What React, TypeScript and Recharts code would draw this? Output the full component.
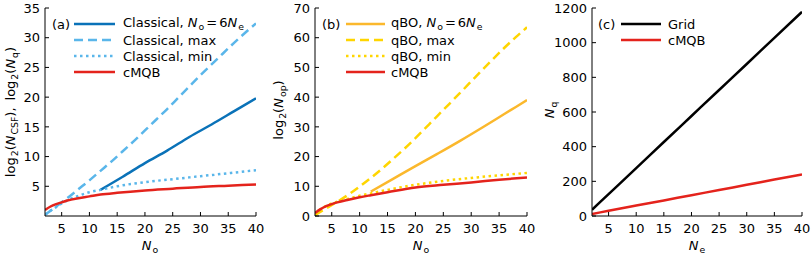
import React from "react"
import { Line, LineChart, XAxis, YAxis } from "recharts"

// N_o grids used by the different curves
const noFine = [2, 3, 4, 5, 6, 8, 10, 12, 15, 20, 25, 30, 35, 40]
const noMax = [2, 4, 6, 8, 10, 12, 14, 16, 18, 20, 22, 24, 26, 28, 30, 32, 34, 36, 38, 40]
const no6Ne = [12, 16, 20, 24, 28, 32, 36, 40]
const neGrid = [2, 5, 10, 15, 20, 25, 30, 35, 40]

// (a) log2(N_CSF), log2(N_q)
const classical6Ne = [4.4, 6.6, 8.9, 11.0, 13.3, 15.4, 17.6, 19.8]
const classicalMax = [0.2, 1.6, 3.0, 4.5, 6.0, 7.6, 9.2, 10.9, 12.6, 14.4, 16.2, 18.0, 19.9, 21.8, 23.7, 25.5, 27.3, 29.1, 30.8, 32.4]
const classicalMin = [0.2, 0.9, 1.5, 2.1, 2.6, 3.4, 4.0, 4.4, 5.0, 5.7, 6.2, 6.7, 7.2, 7.7]
const cmqbA = [1.0, 1.6, 2.0, 2.3, 2.6, 3.0, 3.3, 3.6, 3.9, 4.3, 4.6, 4.9, 5.1, 5.3]

// (b) log2(N_op)
const qbo6Ne = [8.2, 12.5, 16.8, 21.0, 25.3, 29.8, 34.4, 39.0]
const qboMax = [0.3, 2.6, 4.8, 7.2, 9.9, 12.8, 15.9, 19.2, 22.6, 26.2, 30.0, 33.8, 37.6, 41.4, 45.3, 49.2, 53.0, 56.7, 60.2, 63.5]
const qboMin = [0.4, 2.4, 3.4, 4.2, 4.8, 5.8, 6.8, 7.6, 8.8, 10.5, 11.8, 12.8, 13.7, 14.5]
const cmqbB = [1.0, 2.3, 3.3, 4.0, 4.6, 5.5, 6.3, 7.0, 8.0, 9.6, 10.5, 11.3, 12.2, 13.0]

// (c) N_q
const gridQ = [36, 126, 276, 427, 577, 727, 877, 1028, 1178]
const cmqbC = [12, 30, 60, 90, 120, 150, 180, 210, 240]

const xTicks = [5, 10, 15, 20, 25, 30, 35, 40]
const yTicksA = [5, 10, 15, 20, 25, 30, 35]
const yTicksB = [0, 10, 20, 30, 40, 50, 60, 70]
const yTicksC = [0, 200, 400, 600, 800, 1000, 1200]

const FONT = "'DejaVu Sans', sans-serif"
const TICK = 4
const BLUE = "#0a72b8"
const LIGHTBLUE = "#5ab6ea"
const RED = "#e4231c"
const ORANGE = "#fbb82c"
const YELLOW = "#ffd500"
const DASH = "9 5"
const DOT = "2.5 3.5"

const pts = (xs: number[], ys: number[]) => xs.map((x, i) => ({ x, y: ys[i] }))

const leftTick = (gap: number) => (p: any) => (
    <g>
        <line x1={p.x + gap} x2={p.x + gap + TICK} y1={p.y} y2={p.y} stroke="#000" />
        <text x={p.x} y={p.y} dy="0.36em" textAnchor="end" fontSize={13} fontFamily={FONT} fill="#000">
            {p.payload.value}
        </text>
    </g>
)
const rightTick = (p: any) => (
    <line x1={p.x - TICK} x2={p.x} y1={p.y} y2={p.y} stroke="#000" />
)
const bottomTick = (gap: number) => (p: any) => (
    <g>
        <line x1={p.x} x2={p.x} y1={p.y - gap} y2={p.y - gap - TICK} stroke="#000" />
        <text x={p.x} y={p.y} dy="0.72em" textAnchor="middle" fontSize={13} fontFamily={FONT} fill="#000">
            {p.payload.value}
        </text>
    </g>
)
const topTick = (p: any) => (
    <line x1={p.x} x2={p.x} y1={p.y} y2={p.y + TICK} stroke="#000" />
)

const Sub = ({ children }: { children: React.ReactNode }) => (
    <span style={{ fontSize: "0.72em", verticalAlign: "-0.3em", marginLeft: 1 }}>{children}</span>
)
const N = () => <i>N</i>
const Eq = () => <span style={{ margin: "0 2px" }}>=</span>

type Series = {
    data: { x: number; y: number }[]
    color: string
    dash?: string
    label: React.ReactNode
}

type PanelProps = {
    left: number
    width: number
    yWidth: number
    rightPad: number
    yDomain: [number, number]
    yTicks: number[]
    series: Series[]
}

const Panel = ({ left, width, yWidth, rightPad, yDomain, yTicks, series }: PanelProps) => (
    <div style={{ position: "absolute", left, top: 0 }}>
        <LineChart width={width} height={255} margin={{ top: 8, right: rightPad, bottom: 0, left: 0 }}>
            <XAxis
                dataKey="x"
                type="number"
                domain={[2, 40]}
                ticks={xTicks}
                interval={0}
                allowDataOverflow
                height={39}
                tickSize={0}
                tickMargin={8}
                tickLine={false}
                axisLine={{ stroke: "#000" }}
                tick={bottomTick(8)}
            />
            <XAxis
                xAxisId="t"
                orientation="top"
                type="number"
                domain={[2, 40]}
                ticks={xTicks}
                interval={0}
                height={0}
                tickSize={0}
                tickMargin={0}
                tickLine={false}
                axisLine={{ stroke: "#000" }}
                tick={topTick}
            />
            <YAxis
                type="number"
                domain={yDomain}
                ticks={yTicks}
                interval={0}
                allowDataOverflow
                width={yWidth}
                tickSize={0}
                tickMargin={5}
                tickLine={false}
                axisLine={{ stroke: "#000" }}
                tick={leftTick(5)}
            />
            <YAxis
                yAxisId="r"
                orientation="right"
                type="number"
                domain={yDomain}
                ticks={yTicks}
                interval={0}
                width={0}
                tickSize={0}
                tickMargin={0}
                tickLine={false}
                axisLine={{ stroke: "#000" }}
                tick={rightTick}
            />
            {series.map((s, i) => (
                <Line
                    key={i}
                    data={s.data}
                    dataKey="y"
                    type="monotone"
                    stroke={s.color}
                    strokeWidth={2.5}
                    strokeDasharray={s.dash}
                    dot={false}
                    isAnimationActive={false}
                />
            ))}
        </LineChart>
    </div>
)

const Legend = ({ tag, tagX, x0, x1, textX, series }: { tag: string; tagX: number; x0: number; x1: number; textX: number; series: Series[] }) => (
    <>
        <div style={{ position: "absolute", left: tagX, top: 24, transform: "translateY(-50%)", fontSize: 13, whiteSpace: "nowrap" }}>
            {tag}
        </div>
        {series.map((s, i) => (
            <React.Fragment key={i}>
                <svg style={{ position: "absolute", left: x0, top: 24 + i * 16 - 3 }} width={x1 - x0} height={6}>
                    <line x1={0} x2={x1 - x0} y1={3} y2={3} stroke={s.color} strokeWidth={2.5} strokeDasharray={s.dash} />
                </svg>
                <div style={{ position: "absolute", left: textX, top: 24 + i * 16, transform: "translateY(-50%)", fontSize: 13, whiteSpace: "nowrap", lineHeight: "15px" }}>
                    {s.label}
                </div>
            </React.Fragment>
        ))}
    </>
)

const seriesA: Series[] = [
    { data: pts(no6Ne, classical6Ne), color: BLUE, label: <>Classical, <N /><Sub>o</Sub><Eq />6<N /><Sub>e</Sub></> },
    { data: pts(noMax, classicalMax), color: LIGHTBLUE, dash: DASH, label: "Classical, max" },
    { data: pts(noFine, classicalMin), color: LIGHTBLUE, dash: DOT, label: "Classical, min" },
    { data: pts(noFine, cmqbA), color: RED, label: "cMQB" },
]
const seriesB: Series[] = [
    { data: pts(no6Ne, qbo6Ne), color: ORANGE, label: <>qBO, <N /><Sub>o</Sub><Eq />6<N /><Sub>e</Sub></> },
    { data: pts(noMax, qboMax), color: YELLOW, dash: DASH, label: "qBO, max" },
    { data: pts(noFine, qboMin), color: YELLOW, dash: DOT, label: "qBO, min" },
    { data: pts(noFine, cmqbB), color: RED, label: "cMQB" },
]
const seriesC: Series[] = [
    { data: pts(neGrid, gridQ), color: "#000", label: "Grid" },
    { data: pts(neGrid, cmqbC), color: RED, label: "cMQB" },
]

const RotLabel = ({ cx, cy, children }: { cx: number; cy: number; children: React.ReactNode }) => (
    <div style={{ position: "absolute", left: cx, top: cy, transform: "translate(-50%, -50%) rotate(-90deg)", fontSize: 13, whiteSpace: "nowrap" }}>
        {children}
    </div>
)
const XLabel = ({ cx, children }: { cx: number; children: React.ReactNode }) => (
    <div style={{ position: "absolute", left: cx, top: 246, transform: "translate(-50%, -50%)", fontSize: 13, whiteSpace: "nowrap" }}>
        {children}
    </div>
)

export default function App() {
    return (
        <div style={{ position: "absolute", left: 0, top: 0, width: 812, height: 255, background: "#fff", fontFamily: FONT, color: "#000" }}>
            <Panel left={0} width={270} yWidth={45} rightPad={14} yDomain={[0, 35]} yTicks={yTicksA} series={seriesA} />
            <Panel left={270} width={271} yWidth={45} rightPad={14} yDomain={[0, 70]} yTicks={yTicksB} series={seriesB} />
            <Panel left={540} width={272} yWidth={52} rightPad={10} yDomain={[0, 1200]} yTicks={yTicksC} series={seriesC} />

            <Legend tag="(a)" tagX={52} x0={74} x1={115} textX={123} series={seriesA} />
            <Legend tag="(b)" tagX={322} x0={346} x1={385} textX={391} series={seriesB} />
            <Legend tag="(c)" tagX={598} x0={621} x1={661} textX={668} series={seriesC} />

            <RotLabel cx={11} cy={112}>
                log<Sub>2</Sub>(<N /><Sub>CSF</Sub>),<span style={{ marginLeft: 7 }}>log</span><Sub>2</Sub>(<N /><Sub>q</Sub>)
            </RotLabel>
            <RotLabel cx={279} cy={110}>
                log<Sub>2</Sub>(<N /><Sub>op</Sub>)
            </RotLabel>
            <RotLabel cx={550} cy={110}>
                <N /><Sub>q</Sub>
            </RotLabel>

            <XLabel cx={150}><N /><Sub>o</Sub></XLabel>
            <XLabel cx={421}><N /><Sub>o</Sub></XLabel>
            <XLabel cx={697}><N /><Sub>e</Sub></XLabel>
        </div>
    )
}
